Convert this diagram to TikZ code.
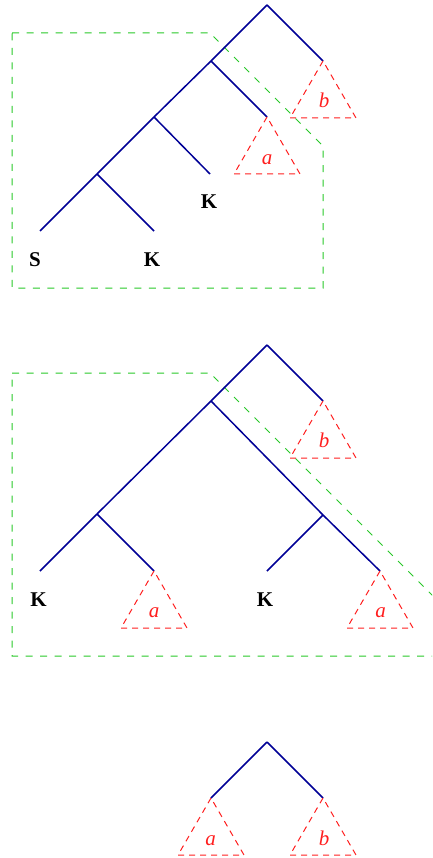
\documentclass[tikz,border=0pt]{standalone}
\usepackage{fontspec}
\setmainfont{Liberation Serif}
\definecolor{treeblue}{RGB}{0,0,150}
\definecolor{trired}{RGB}{255,30,30}
\definecolor{boxgreen}{RGB}{40,200,40}
\begin{document}
\begin{tikzpicture}[x=1pt,y=-1pt,
  branch/.style={treeblue,line width=1.5pt},
  subtree/.style={trired,line width=1pt,dash pattern=on 6pt off 5pt},
  region/.style={boxgreen,line width=1pt,dash pattern=on 7pt off 7.5pt},
  leaf/.style={anchor=base,inner sep=0pt,font=\fontsize{21}{21}\selectfont\bfseries},
  tri/.style={anchor=base,inner sep=0pt,trired,font=\fontsize{21}{21}\selectfont\itshape}]
\useasboundingbox (0,0) rectangle (432,858);
\clip (0,0) rectangle (432,858);
% ---------- diagram 1 ----------
\draw[region] (12,33) -- (210,33) -- (323,146) -- (323,288) -- (12,288) -- cycle;
\coordinate (r1) at (267,5);
\coordinate (r1b) at (323,61);
\coordinate (r1n1) at (211,61);
\coordinate (r1n2) at (154,117);
\coordinate (r1n3) at (97,174);
\coordinate (r1s) at (40,231);
\coordinate (r1a) at (267,117);
\coordinate (r1k1) at (210,174);
\coordinate (r1k2) at (154,231);
\draw[branch] (r1) -- (r1b);
\draw[branch] (r1) -- (r1n1);
\draw[branch] (r1n1) -- (r1n2);
\draw[branch] (r1n2) -- (r1n3);
\draw[branch] (r1n3) -- (r1s);
\draw[branch] (r1n1) -- (r1a);
\draw[branch] (r1n2) -- (r1k1);
\draw[branch] (r1n3) -- (r1k2);
\draw[subtree] (r1a) -- ++(-33,57) -- ++(66,0) -- cycle;
\draw[subtree] (r1b) -- ++(-33,57) -- ++(66,0) -- cycle;
\node[tri] (l1a) at (267,164.5) {a};
\node[tri] (l1b) at (324,107.5) {b};
\node[leaf] (l1k1) at (209,208.5) {K};
\node[leaf] (l1s) at (35,266.5) {S};
\node[leaf] (l1k2) at (152,266.5) {K};
% ---------- diagram 2 ----------
\draw[region] (12,373) -- (210,373) -- (493,656) -- (12,656) -- cycle;
\coordinate (r2) at (267,345);
\coordinate (r2b) at (323,401);
\coordinate (r2n1) at (211,401);
\coordinate (r2n2) at (97,514);
\coordinate (r2n3) at (323,515);
\coordinate (r2k1) at (40,571);
\coordinate (r2a1) at (154,571);
\coordinate (r2k2) at (267,571);
\coordinate (r2a2) at (380,571);
\draw[branch] (r2) -- (r2b);
\draw[branch] (r2) -- (r2n1);
\draw[branch] (r2n1) -- (r2n2);
\draw[branch] (r2n1) -- (r2n3);
\draw[branch] (r2n2) -- (r2k1);
\draw[branch] (r2n2) -- (r2a1);
\draw[branch] (r2n3) -- (r2k2);
\draw[branch] (r2n3) -- (r2a2);
\draw[subtree] (r2b) -- ++(-33,57) -- ++(66,0) -- cycle;
\draw[subtree] (r2a1) -- ++(-33,57) -- ++(66,0) -- cycle;
\draw[subtree] (r2a2) -- ++(-33,57) -- ++(66,0) -- cycle;
\node[tri] (l2b) at (324,447.5) {b};
\node[tri] (l2a1) at (154,617) {a};
\node[tri] (l2a2) at (380.5,617) {a};
\node[leaf] (l2k1) at (38.5,606) {K};
\node[leaf] (l2k2) at (265,606) {K};
% ---------- diagram 3 ----------
\coordinate (r3) at (267,742);
\coordinate (r3a) at (211,798);
\coordinate (r3b) at (323,798);
\draw[branch] (r3) -- (r3a);
\draw[branch] (r3) -- (r3b);
\draw[subtree] (r3a) -- ++(-33,57) -- ++(66,0) -- cycle;
\draw[subtree] (r3b) -- ++(-33,57) -- ++(66,0) -- cycle;
\node[tri] (l3a) at (210.5,845) {a};
\node[tri] (l3b) at (324,845) {b};
\end{tikzpicture}
\end{document}
